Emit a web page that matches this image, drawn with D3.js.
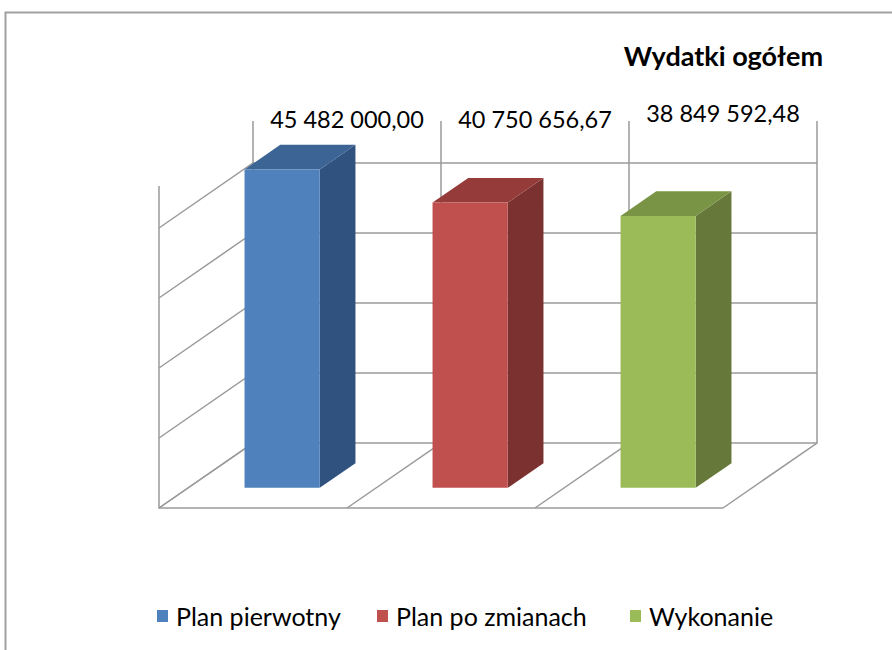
<!DOCTYPE html>
<html>
  <head>
    <meta charset="utf-8">
    <style>
      html, body {
        padding: 0;
        margin: 0;
        overflow: hidden;
        background: #ffffff;
      }
      svg text {
        font-family: Lato, "Open Sans", sans-serif;
        fill: #000000;
      }
      .grid {
        stroke: #9a9a9a;
        stroke-width: 1.5;
        fill: none;
      }
    </style>
  </head>
  <body>
    <div id="chart"></div>
    <script src="https://cdnjs.cloudflare.com/ajax/libs/d3/7.8.5/d3.min.js"></script>
    <script>
      let title = 'Wydatki ogółem'
      let categories = ['Plan pierwotny', 'Plan po zmianach', 'Wykonanie']
      let values = [45482000.00, 40750656.67, 38849592.48]
      let valueLabels = ['45 482 000,00', '40 750 656,67', '38 849 592,48']
      let gridTicks = [0, 10000000, 20000000, 30000000, 40000000]
      let axisMax = 46000000

      let frontColors = ['#4f81bd', '#c0504d', '#9bbb59']
      let sideColors = ['#30527f', '#7b3130', '#66783a']
      let topColors = ['#3c6595', '#953b39', '#7a9445']

      let width = 892
      let height = 650

      // floor front edge and the depth vector of the 3D box
      let x0 = 159, x1 = 723, floorY = 508
      let depth = { x: 94, y: -65 }
      let barDepth = [0.31, 0.69]

      let x = d3.scaleBand()
        .domain(categories)
        .range([x0, x1])
        .paddingInner(0.6)
        .paddingOuter(0.3)

      let y = d3.scaleLinear()
        .domain([0, axisMax])
        .range([0, 322])

      // project (floor x, value, depth fraction) to the screen
      function pt(px, v, d) {
        return [px + d * depth.x, floorY - y(v) + d * depth.y]
      }

      let svg = d3.select('#chart')
        .append('svg')
        .attr('width', width)
        .attr('height', height)

      svg.append('rect')
        .attr('x', 5.5)
        .attr('y', 12.5)
        .attr('width', width + 20)
        .attr('height', height + 20)
        .attr('fill', '#ffffff')
        .attr('stroke', '#a0a0a0')
        .attr('stroke-width', 2)

      let line = d3.line()
      let walls = svg.append('g')

      // back wall and left wall gridlines
      gridTicks.forEach(t => {
        walls.append('path').attr('class', 'grid')
          .attr('d', line([pt(x0, t, 0), pt(x0, t, 1), pt(x1, t, 1)]))
      })

      // category boundaries
      let step = x.step()
      let bounds = d3.range(categories.length + 1).map(i => x0 + i * step)
      bounds.forEach(b => {
        walls.append('path').attr('class', 'grid')
          .attr('d', line([pt(b, 0, 0), pt(b, 0, 1), pt(b, axisMax, 1)]))
      })

      // left wall front edge and floor front edge
      walls.append('path').attr('class', 'grid')
        .attr('d', line([pt(x0, axisMax, 0), pt(x0, 0, 0), pt(x1, 0, 0)]))

      // bars
      let bars = svg.append('g')
      categories.forEach((c, i) => {
        let l = x(c), r = x(c) + x.bandwidth()
        let v = values[i]
        let [d0, d1] = barDepth
        bars.append('path')
          .attr('fill', sideColors[i])
          .attr('d', line([pt(r, 0, d0), pt(r, 0, d1), pt(r, v, d1), pt(r, v, d0)]) + 'Z')
        bars.append('path')
          .attr('fill', topColors[i])
          .attr('d', line([pt(l, v, d0), pt(l, v, d1), pt(r, v, d1), pt(r, v, d0)]) + 'Z')
        bars.append('path')
          .attr('fill', frontColors[i])
          .attr('d', line([pt(l, 0, d0), pt(r, 0, d0), pt(r, v, d0), pt(l, v, d0)]) + 'Z')
      })

      // value labels above the back wall
      svg.append('g').selectAll('text')
        .data(valueLabels)
        .enter().append('text')
        .attr('x', (d, i) => pt(x(categories[i]) + x.bandwidth() / 2, axisMax, 1)[0])
        .attr('y', (d, i) => i === 2 ? 122 : 128)
        .attr('text-anchor', 'middle')
        .attr('font-size', 23.5)
        .text(d => d)

      svg.append('text')
        .attr('x', 823)
        .attr('y', 66)
        .attr('text-anchor', 'end')
        .attr('font-size', 27)
        .attr('font-weight', 'bold')
        .text(title)

      // legend
      let legendX = [157, 377, 630]
      let legend = svg.append('g')
      categories.forEach((c, i) => {
        legend.append('rect')
          .attr('x', legendX[i])
          .attr('y', 610)
          .attr('width', 11)
          .attr('height', 12)
          .attr('fill', frontColors[i])
        legend.append('text')
          .attr('x', legendX[i] + 19)
          .attr('y', 626)
          .attr('font-size', 25)
          .text(c)
      })
    </script>
  </body>
</html>
